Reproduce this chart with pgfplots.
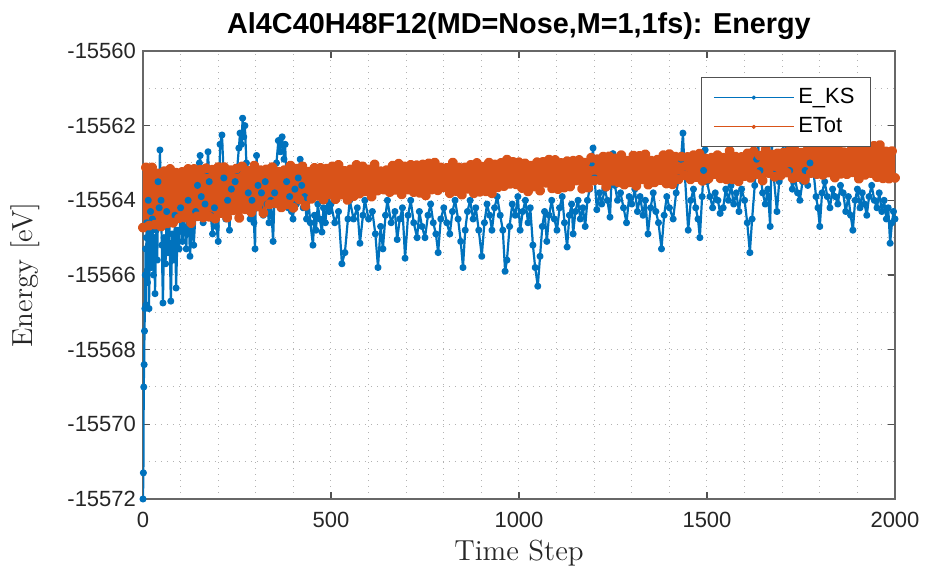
\documentclass[border=0pt]{standalone}
\usepackage{fontspec}
\newfontfamily\hv{Liberation Sans}
\usepackage{pgfplots}
\usepackage{pgfplotstable}
\pgfplotsset{compat=1.18}
\definecolor{mblue}{RGB}{0,114,189}
\definecolor{morange}{RGB}{217,83,25}
\definecolor{maxis}{RGB}{38,38,38}

\pgfplotstableread{
x y
0 -15572.0
1 -15571.3
2 -15569.0
3 -15568.4
4 -15567.5
5 -15566.9
6 -15566.0
7 -15565.3
8 -15566.8
9 -15565.0
10 -15564.6
12 -15566.2
14 -15564.0
16 -15566.9
18 -15565.2
20 -15564.3
22 -15565.8
25 -15564.5
28 -15566.0
30 -15565.0
32 -15566.5
35 -15564.8
38 -15565.6
40 -15563.5
43 -15564.2
45 -15562.65
48 -15564.0
50 -15565.2
53 -15566.75
56 -15565.0
60 -15565.7
63 -15564.3
66 -15565.4
70 -15564.6
74 -15566.7
78 -15564.9
82 -15565.6
85 -15564.4
88 -15566.35
92 -15564.8
96 -15565.3
100 -15564.2
105 -15565.1
110 -15564.5
115 -15565.3
120 -15564.0
125 -15565.5
130 -15564.6
135 -15565.2
140 -15564.3
145 -15563.6
150 -15563.0
152 -15562.8
155 -15563.9
160 -15564.6
165 -15564.1
170 -15563.2
173 -15562.7
176 -15563.5
180 -15564.4
185 -15564.9
190 -15564.2
195 -15564.7
200 -15565.1
205 -15562.5
210 -15562.25
215 -15563.4
220 -15564.5
225 -15564.0
230 -15564.8
235 -15563.7
240 -15564.3
245 -15563.5
250 -15563.2
255 -15562.6
258 -15562.2
262 -15562.5
265 -15561.8
268 -15562.3
271 -15562.0
275 -15563.0
280 -15563.8
285 -15564.5
290 -15564.0
295 -15564.6
298 -15565.3
302 -15562.8
306 -15563.6
310 -15564.2
315 -15563.8
320 -15564.4
325 -15563.5
330 -15564.1
335 -15564.6
340 -15564.0
346 -15565.1
350 -15563.8
355 -15563.0
360 -15562.4
365 -15562.7
370 -15562.3
375 -15562.9
378 -15562.5
382 -15563.5
386 -15564.2
390 -15563.9
395 -15564.3
399 -15564.5
404 -15563.7
408 -15564.1
413 -15563.4
418 -15562.9
422 -15563.6
426 -15564.2
430 -15563.9
435 -15564.5
440 -15564.0
445 -15564.6
452 -15565.2
456 -15564.4
460 -15564.8
465 -15564.1
470 -15564.5
476 -15564.85
480 -15564.2
485 -15564.6
490 -15564.0
495 -15564.3
500 -15564.1
510 -15564.6
520 -15564.3
529 -15565.7
537 -15565.4
545 -15564.5
550 -15564.0
560 -15564.5
570 -15564.2
577 -15565.15
585 -15564.4
590 -15564.0
600 -15564.5
610 -15564.3
618 -15564.9
625 -15565.8
632 -15564.7
638 -15565.3
645 -15564.4
650 -15564.0
660 -15564.6
670 -15564.3
676 -15565.05
683 -15564.5
690 -15564.2
697 -15565.55
705 -15564.4
712 -15564.0
720 -15564.6
729 -15565.0
735 -15564.3
742 -15564.7
750 -15565.0
758 -15564.4
765 -15564.1
772 -15564.6
779 -15564.9
785 -15565.4
792 -15564.5
800 -15564.2
808 -15564.6
816 -15564.9
823 -15564.3
830 -15564.0
838 -15564.5
845 -15565.1
851 -15565.8
857 -15564.8
863 -15564.3
870 -15564.0
878 -15564.5
885 -15564.2
893 -15564.8
901 -15565.5
908 -15564.6
915 -15564.1
922 -15564.4
928 -15564.8
935 -15564.2
942 -15563.9
950 -15564.4
957 -15564.8
963 -15565.9
968 -15565.6
975 -15564.7
982 -15564.1
990 -15564.4
997 -15563.9
1003 -15564.8
1010 -15564.3
1017 -15564.0
1024 -15564.6
1030 -15564.2
1037 -15565.2
1043 -15565.8
1050 -15566.3
1056 -15565.5
1062 -15564.7
1068 -15564.3
1074 -15565.1
1080 -15564.4
1087 -15564.0
1094 -15564.5
1101 -15564.8
1108 -15564.2
1115 -15563.9
1121 -15564.6
1128 -15565.25
1134 -15564.4
1140 -15564.1
1144 -15564.9
1150 -15564.3
1157 -15564.0
1163 -15564.5
1170 -15564.2
1176 -15564.7
1182 -15564.0
1188 -15563.7
1193 -15563.0
1197 -15562.6
1201 -15563.4
1207 -15564.25
1214 -15563.8
1220 -15564.1
1228 -15563.7
1235 -15564.0
1242 -15564.45
1246 -15563.5
1250 -15562.75
1255 -15563.6
1262 -15564.0
1270 -15563.8
1278 -15564.2
1286 -15564.6
1293 -15563.9
1300 -15564.1
1308 -15563.7
1315 -15564.3
1322 -15563.9
1330 -15564.4
1336 -15564.0
1343 -15564.9
1350 -15564.2
1357 -15563.8
1364 -15564.3
1371 -15564.6
1379 -15565.3
1386 -15564.4
1393 -15563.9
1400 -15564.2
1410 -15564.5
1418 -15563.8
1425 -15563.4
1431 -15562.9
1436 -15562.2
1441 -15563.3
1450 -15564.8
1457 -15564.0
1464 -15563.7
1470 -15564.2
1476 -15564.5
1481 -15565.0
1487 -15563.9
1491 -15563.2
1495 -15562.65
1500 -15563.5
1508 -15563.9
1515 -15564.2
1522 -15563.8
1529 -15564.0
1535 -15564.35
1543 -15564.2
1550 -15563.7
1557 -15564.0
1564 -15563.6
1571 -15564.1
1578 -15563.8
1585 -15564.3
1592 -15563.7
1600 -15564.0
1607 -15564.6
1614 -15565.4
1620 -15564.5
1627 -15563.6
1632 -15562.9
1636 -15562.5
1641 -15563.2
1648 -15563.8
1655 -15564.1
1662 -15563.7
1668 -15564.7
1672 -15562.5
1677 -15563.3
1686 -15564.3
1692 -15563.5
1700 -15562.7
1705 -15562.45
1710 -15562.5
1715 -15562.6
1720 -15563.2
1727 -15563.7
1734 -15563.4
1741 -15563.8
1747 -15564.0
1754 -15563.5
1761 -15563.2
1768 -15563.6
1774 -15563.0
1779 -15562.5
1784 -15563.3
1790 -15563.9
1795 -15564.2
1800 -15564.7
1806 -15563.8
1813 -15563.5
1820 -15563.9
1827 -15564.2
1834 -15563.7
1841 -15563.9
1848 -15564.1
1855 -15563.6
1862 -15563.8
1869 -15564.3
1876 -15563.9
1882 -15564.4
1888 -15564.8
1894 -15564.0
1900 -15563.7
1907 -15564.2
1913 -15563.8
1919 -15564.1
1925 -15564.4
1931 -15563.9
1938 -15563.6
1945 -15564.0
1952 -15564.2
1958 -15563.8
1965 -15564.3
1971 -15564.0
1977 -15564.5
1982 -15564.2
1987 -15565.15
1992 -15564.6
1996 -15564.3
2000 -15564.5
}\eks

\pgfplotstableread{
x y
0 -15564.73
8 -15563.12
16 -15564.68
24 -15563.12
32 -15564.65
40 -15563.28
48 -15564.70
56 -15563.22
64 -15564.62
72 -15563.16
80 -15564.60
88 -15563.26
96 -15564.48
104 -15563.24
112 -15564.46
120 -15563.16
128 -15564.61
136 -15563.16
144 -15564.43
152 -15563.18
160 -15564.46
168 -15563.14
176 -15564.44
184 -15563.18
192 -15564.49
200 -15563.11
208 -15564.34
216 -15563.11
224 -15564.46
232 -15563.19
240 -15564.27
248 -15563.15
256 -15564.47
264 -15563.09
272 -15564.24
280 -15563.21
288 -15564.32
296 -15563.07
304 -15564.17
312 -15563.19
320 -15564.34
328 -15563.17
336 -15564.11
344 -15563.11
352 -15564.08
360 -15563.23
368 -15564.19
376 -15563.19
384 -15564.11
392 -15563.07
400 -15564.20
408 -15563.15
416 -15563.98
424 -15563.09
432 -15564.15
440 -15563.23
448 -15563.96
456 -15563.13
464 -15563.88
472 -15563.13
480 -15563.98
488 -15563.15
496 -15563.84
504 -15563.09
512 -15563.97
520 -15563.05
528 -15563.85
536 -15563.21
544 -15563.99
552 -15563.17
560 -15563.89
568 -15563.05
576 -15563.82
584 -15563.09
592 -15563.76
600 -15563.17
608 -15563.90
616 -15563.04
624 -15563.74
632 -15563.22
640 -15563.71
648 -15563.19
656 -15563.78
664 -15563.07
672 -15563.72
680 -15563.02
688 -15563.84
696 -15563.09
704 -15563.71
712 -15563.05
720 -15563.78
728 -15563.06
736 -15563.80
744 -15563.04
752 -15563.87
760 -15563.01
768 -15563.71
776 -15562.99
784 -15563.73
792 -15563.12
800 -15563.65
808 -15563.13
816 -15563.81
824 -15562.99
832 -15563.75
840 -15563.12
848 -15563.85
856 -15563.12
864 -15563.69
872 -15563.05
880 -15563.81
888 -15563.00
896 -15563.77
904 -15563.10
912 -15563.76
920 -15562.99
928 -15563.81
936 -15563.04
944 -15563.65
952 -15563.00
960 -15563.62
968 -15562.91
976 -15563.56
984 -15562.97
992 -15563.57
1000 -15562.98
1008 -15563.67
1016 -15563.01
1024 -15563.76
1032 -15563.07
1040 -15563.63
1048 -15562.98
1056 -15563.74
1064 -15562.97
1072 -15563.53
1080 -15562.91
1088 -15563.68
1096 -15562.92
1104 -15563.70
1112 -15563.00
1120 -15563.66
1128 -15562.95
1136 -15563.63
1144 -15562.94
1152 -15563.47
1160 -15562.92
1168 -15563.69
1176 -15562.99
1184 -15563.66
1192 -15562.86
1200 -15563.47
1208 -15562.90
1216 -15563.46
1224 -15562.83
1232 -15563.63
1240 -15562.82
1248 -15563.48
1256 -15562.88
1264 -15563.52
1272 -15562.79
1280 -15563.58
1288 -15562.94
1296 -15563.52
1304 -15562.80
1312 -15563.61
1320 -15562.81
1328 -15563.44
1336 -15562.77
1344 -15563.58
1352 -15562.94
1360 -15563.52
1368 -15562.91
1376 -15563.46
1384 -15562.79
1392 -15563.55
1400 -15562.76
1408 -15563.57
1416 -15562.83
1424 -15563.44
1432 -15562.83
1440 -15563.33
1448 -15562.84
1456 -15563.44
1464 -15562.79
1472 -15563.38
1480 -15562.75
1488 -15563.48
1496 -15562.88
1504 -15563.42
1512 -15562.86
1520 -15563.30
1528 -15562.79
1536 -15563.41
1544 -15562.86
1552 -15563.44
1560 -15562.68
1568 -15563.44
1576 -15562.83
1584 -15563.49
1592 -15562.84
1600 -15563.35
1608 -15562.74
1616 -15563.40
1624 -15562.69
1632 -15563.30
1640 -15562.80
1648 -15563.47
1656 -15562.64
1664 -15563.27
1672 -15562.77
1680 -15563.37
1688 -15562.74
1696 -15563.33
1704 -15562.72
1712 -15563.26
1720 -15562.67
1728 -15563.41
1736 -15562.68
1744 -15563.38
1752 -15562.72
1760 -15563.45
1768 -15562.63
1776 -15563.27
1784 -15562.67
1792 -15563.30
1800 -15562.68
1808 -15563.32
1816 -15562.65
1824 -15563.26
1832 -15562.61
1840 -15563.39
1848 -15562.62
1856 -15563.29
1864 -15562.71
1872 -15563.30
1880 -15562.69
1888 -15563.25
1896 -15562.60
1904 -15563.42
1912 -15562.66
1920 -15563.32
1928 -15562.57
1936 -15563.27
1944 -15562.54
1952 -15563.38
1960 -15562.52
1968 -15563.41
1976 -15562.69
1984 -15563.42
1992 -15562.68
2000 -15563.40
}\etot

\begin{document}
\begin{tikzpicture}
\begin{axis}[
  scale only axis,
  width=376pt, height=224pt,
  xmin=0, xmax=2000, ymin=-15572, ymax=-15560,
  scaled x ticks=false, scaled y ticks=false,
  xtick={0,500,1000,1500,2000},
  xticklabels={0,500,1000,1500,2000},
  ytick={-15572,-15570,-15568,-15566,-15564,-15562,-15560},
  yticklabels={-15572,-15570,-15568,-15566,-15564,-15562,-15560},
  minor x tick num=4, minor y tick num=1,
  grid=both,
  major grid style={black!30, line width=0.5pt, dash pattern=on 0.6pt off 2.4pt},
  minor grid style={black!30, line width=0.5pt, dash pattern=on 0.6pt off 2.4pt},
  minor tick length=0pt, major tick length=3.5pt,
  tick align=inside,
  tick style={maxis!80, line width=0.6pt},
  axis line style={maxis!70, line width=0.7pt},
  ticklabel style={font=\hv\fontsize{11}{13}\selectfont, text=maxis},
  xticklabel style={yshift=-3pt},
  title={Al4C40H48F12(MD=Nose,M=1,1fs): Energy},
  title style={font=\hv\bfseries\fontsize{14.4}{17}\selectfont, text=black, inner sep=0pt,
    at={(axis description cs:0.5,1.029)}, anchor=center},
  xlabel={Time Step}, ylabel={Energy [eV]},
  label style={font=\fontsize{14.5}{17}\selectfont, text=maxis, inner sep=0pt},
  xlabel style={at={(axis description cs:0.5,-0.1205)}, anchor=center},
  ylabel style={at={(axis description cs:-0.157,0.5)}, anchor=center},
  legend style={at={(axis description cs:0.968,0.942)}, anchor=north east,
    font=\hv\fontsize{11}{13}\selectfont, draw=maxis!80, fill=white,
    inner xsep=6pt, inner ysep=3.5pt, row sep=1.5pt},
  legend cell align=left,
  legend image code/.code={\draw[mark repeat=2,mark phase=2,#1] plot coordinates {(0pt,0pt) (20pt,0pt) (40pt,0pt)};},
]
\addplot[color=mblue, line width=1.1pt, line join=round, mark=*, mark size=1.2pt, legend image post style={line width=0.5pt, mark size=0.8pt}] table[x=x,y=y] {\eks};
\addlegendentry{E\_KS}
\addplot[color=morange, line width=3pt, line join=round, mark=*, mark size=1pt, legend image post style={line width=0.5pt, mark size=0.8pt}] table[x=x,y=y] {\etot};
\addlegendentry{ETot}
\end{axis}
\pgfresetboundingbox
\path[use as bounding box] ([xshift=-71.5pt,yshift=-36pt]current axis.south west) rectangle ([xshift=16pt,yshift=25.5pt]current axis.north east);
\end{tikzpicture}
\end{document}
